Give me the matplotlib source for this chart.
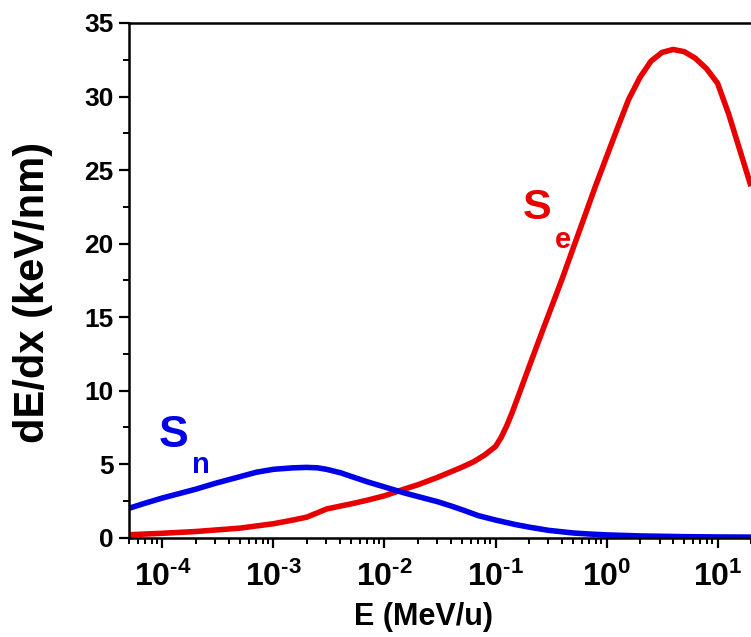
import numpy as np
import matplotlib
matplotlib.use("Agg")
import matplotlib.pyplot as plt
from matplotlib.ticker import MultipleLocator, LogLocator, NullFormatter

plt.rcParams['font.family'] = ['Liberation Sans', 'DejaVu Sans']
plt.rcParams['font.weight'] = 'bold'
plt.rcParams['mathtext.fontset'] = 'custom'
plt.rcParams['mathtext.rm'] = 'Liberation Sans:bold'
plt.rcParams['mathtext.it'] = 'Liberation Sans:bold'
plt.rcParams['mathtext.bf'] = 'Liberation Sans:bold'
plt.rcParams['mathtext.default'] = 'rm'

# nuclear stopping Sn
sn_energy = [5e-5, 7e-5, 1e-4, 1.5e-4, 2e-4, 3e-4, 5e-4, 7e-4, 1e-3, 1.5e-3, 2e-3,
             2.5e-3, 3e-3, 4e-3, 5e-3, 7e-3, 1e-2, 1.5e-2, 2e-2, 3e-2, 4e-2,
             5e-2, 7e-2, 0.1, 0.15, 0.2, 0.3, 0.5, 0.7, 1.0, 2.0, 5.0, 10.0, 20.0]
sn_values = [2.0, 2.35, 2.7, 3.05, 3.3, 3.7, 4.15, 4.45, 4.65, 4.75, 4.78,
             4.75, 4.65, 4.42, 4.17, 3.8, 3.45, 3.05, 2.8, 2.45, 2.15,
             1.9, 1.5, 1.2, 0.9, 0.72, 0.5, 0.32, 0.25, 0.19, 0.12, 0.07, 0.05, 0.04]

# electronic stopping Se
se_energy = [5e-5, 1e-4, 2e-4, 5e-4, 1e-3, 1.5e-3, 2e-3, 2.5e-3, 3e-3, 4e-3,
             5e-3, 7e-3, 1e-2, 1.5e-2, 2e-2, 3e-2, 5e-2, 6.3e-2, 7.9e-2, 0.1,
             0.112, 0.126, 0.141, 0.158, 0.2, 0.251, 0.316, 0.398, 0.501, 0.631,
             0.794, 1.0, 1.26, 1.58, 2.0, 2.51, 3.16, 3.98, 5.01, 6.31, 7.94,
             10.0, 12.6, 15.8, 20.0]
se_values = [0.2, 0.3, 0.42, 0.65, 0.95, 1.2, 1.4, 1.7, 1.95, 2.15,
             2.3, 2.55, 2.85, 3.3, 3.6, 4.1, 4.8, 5.15, 5.6, 6.2,
             6.8, 7.6, 8.5, 9.5, 11.6, 13.6, 15.6, 17.6, 19.7, 21.8,
             23.9, 25.9, 27.9, 29.8, 31.3, 32.4, 33.0, 33.2, 33.05, 32.6, 31.9,
             30.9, 28.8, 26.4, 23.9]

xticks = [1e-4, 1e-3, 1e-2, 1e-1, 1e0, 1e1]
xtick_labels = [r'$10^{\text{-4}}$', r'$10^{\text{-3}}$', r'$10^{\text{-2}}$',
                r'$10^{\text{-1}}$', r'$10^{0}$', r'$10^{1}$']
yticks = [0, 5, 10, 15, 20, 25, 30, 35]

red = '#e80000'
blue = '#0000e8'

fig = plt.figure(figsize=(7.51, 6.37), dpi=100)
ax = fig.add_axes([0.1718, 0.1559, 0.8282, 0.808])

ax.plot(se_energy, se_values, color=red, lw=4, solid_joinstyle='round', solid_capstyle='butt')
ax.plot(sn_energy, sn_values, color=blue, lw=4, solid_joinstyle='round', solid_capstyle='butt')

ax.set_xscale('log')
ax.set_xlim(5e-5, 20)
ax.set_ylim(0, 35)

ax.set_xticks(xticks)
ax.set_xticklabels(xtick_labels, fontsize=23)
ax.xaxis.set_minor_locator(LogLocator(base=10, subs=np.arange(2, 10), numticks=20))
ax.xaxis.set_minor_formatter(NullFormatter())
ax.set_yticks(yticks)
ax.set_yticklabels([str(v) for v in yticks], fontsize=19, fontweight='bold')
ax.yaxis.set_minor_locator(MultipleLocator(2.5))

ax.tick_params(which='major', direction='out', length=7, width=1.6)
ax.tick_params(which='minor', direction='out', length=4, width=1.4)
ax.tick_params(axis='y', which='major', pad=4)
ax.tick_params(axis='x', which='major', pad=10)

for s in ['left', 'bottom', 'top']:
    ax.spines[s].set_linewidth(1.8)
ax.spines['right'].set_visible(False)

ax.set_xlabel('E (MeV/u)', fontsize=22, fontweight='bold')
ax.xaxis.set_label_coords(0.474, -0.125)
ax.set_ylabel('dE/dx (keV/nm)', fontsize=30, fontweight='bold')
ax.yaxis.set_label_coords(-0.122, 0.476)

# curve labels
ax.text(9.2e-5, 6.16, 'S', color=blue, fontsize=32, fontweight='bold')
ax.text(1.86e-4, 4.4, 'n', color=blue, fontsize=21, fontweight='bold')
ax.text(0.175, 21.7, 'S', color=red, fontsize=31, fontweight='bold')
ax.text(0.34, 19.7, 'e', color=red, fontsize=21, fontweight='bold')

fig.savefig('out.png', dpi=100)
